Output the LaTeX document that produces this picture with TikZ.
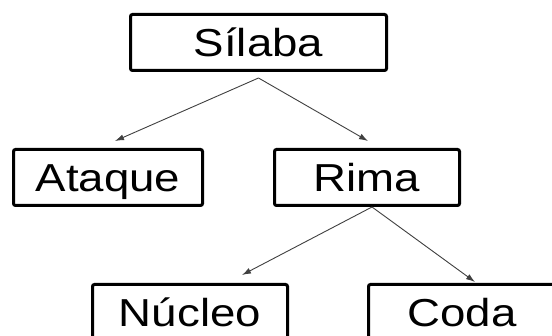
\documentclass[tikz,border=0pt]{standalone}
\usepackage{fontspec}
\setmainfont{Liberation Sans}[FakeStretch=1.17]
\usetikzlibrary{arrows.meta,positioning}

\begin{document}
\begin{tikzpicture}[x=1pt,y=1pt,
 box/.style={draw,line width=3pt,rounded corners=2pt,minimum height=56pt,inner sep=0pt,
   text height=28pt,text depth=0pt,font=\fontsize{39}{46}\selectfont},
 arr/.style={-{Latex[length=9pt,width=6pt]},line width=0.9pt,draw=black!75}
]
\clip (0,0) rectangle (552,336);
\fill[white] (0,0) rectangle (552,336);
\node[box,minimum width=256pt] (silaba) at (258.5,293.5) {Sílaba};
\node[box,minimum width=189pt] (ataque) at (108,158.5) {Ataque};
\node[box,minimum width=185pt,right=69pt of ataque] (rima) {Rima};
\node[box,minimum width=195pt] (nucleo) at (190,23.5) {Núcleo};
\node[box,minimum width=187pt,right=78pt of nucleo] (coda) {Coda};
\draw[arr] ([yshift=-6pt]silaba.south) -- ([xshift=7pt,yshift=7pt]ataque.north);
\draw[arr] ([yshift=-6pt]silaba.south) -- ([xshift=1pt,yshift=7pt]rima.north);
\draw[arr] ([xshift=5pt]rima.south) -- ([xshift=52pt,yshift=8pt]nucleo.north);
\draw[arr] ([xshift=5pt]rima.south) -- ([xshift=13pt,yshift=1pt]coda.north);
\end{tikzpicture}
\end{document}
